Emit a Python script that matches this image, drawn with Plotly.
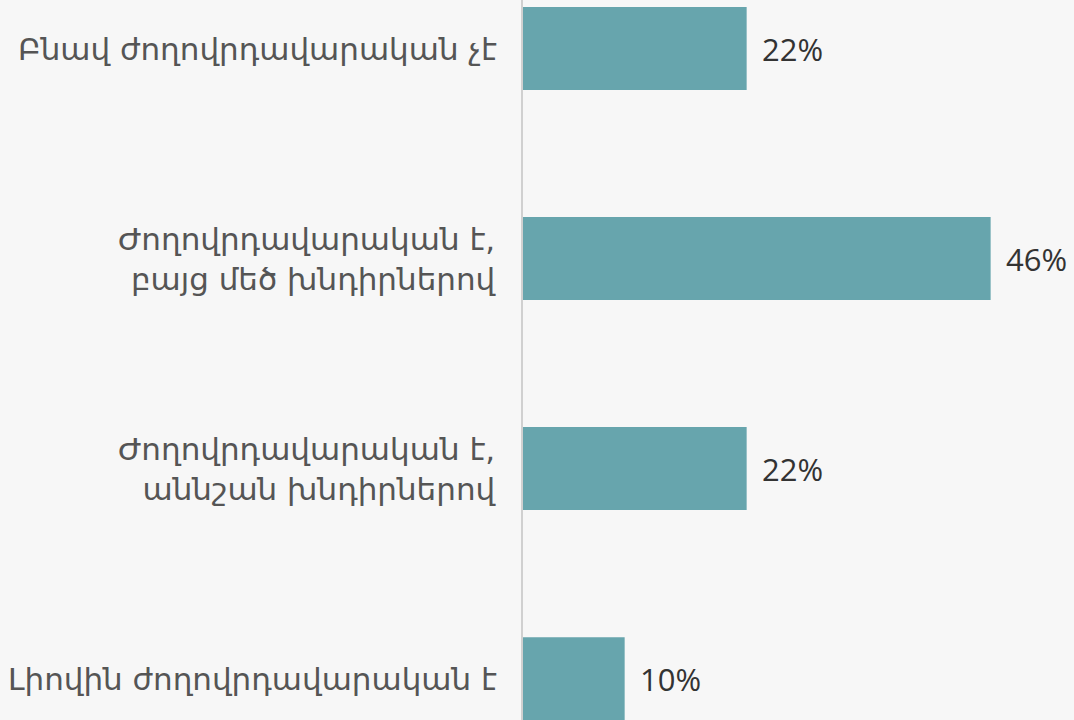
import plotly.graph_objects as go

categories = [
    "Բնավ ժողովրդավարական չէ",
    "Ժողովրդավարական է,<br>բայց մեծ խնդիրներով",
    "Ժողովրդավարական է,<br>աննշան խնդիրներով",
    "Լիովին ժողովրդավարական է",
]
values = [22, 46, 22, 10]
value_labels = ["22%", "46%", "22%", "10%"]

positions = list(range(len(categories)))

fig = go.Figure()
fig.add_trace(go.Bar(
    x=values,
    y=positions,
    orientation="h",
    width=0.395,
    marker=dict(color="#67a5ad", line=dict(width=0)),
    hoverinfo="skip",
))

# value labels just past the end of each bar
for pos, val, txt in zip(positions, values, value_labels):
    fig.add_annotation(
        x=val, y=pos, xref="x", yref="y",
        text=txt, showarrow=False,
        xanchor="left", yanchor="middle", xshift=13,
        font=dict(size=31, color="#333333", family="Open Sans, sans-serif"),
    )

# category labels to the left of the axis line
for pos, label in zip(positions, categories):
    fig.add_annotation(
        x=0, y=pos, xref="paper", yref="y",
        text=label, showarrow=False,
        xanchor="right", yanchor="middle", align="right",
        xshift=-24,
        font=dict(size=31, color="#555555", family="DejaVu Sans, sans-serif"),
    )

fig.update_layout(
    width=1074, height=720,
    margin=dict(l=523, r=0, t=0, b=0),
    paper_bgcolor="#f7f7f7",
    plot_bgcolor="#f7f7f7",
    showlegend=False,
)
fig.update_xaxes(
    range=[0, 54.2], visible=False, showgrid=False, zeroline=False,
)
fig.update_yaxes(
    range=[3.197, -0.231], showgrid=False, zeroline=False, showticklabels=False,
    showline=True, linecolor="#d0d0d0", linewidth=2,
)

fig.write_html("out.html")
